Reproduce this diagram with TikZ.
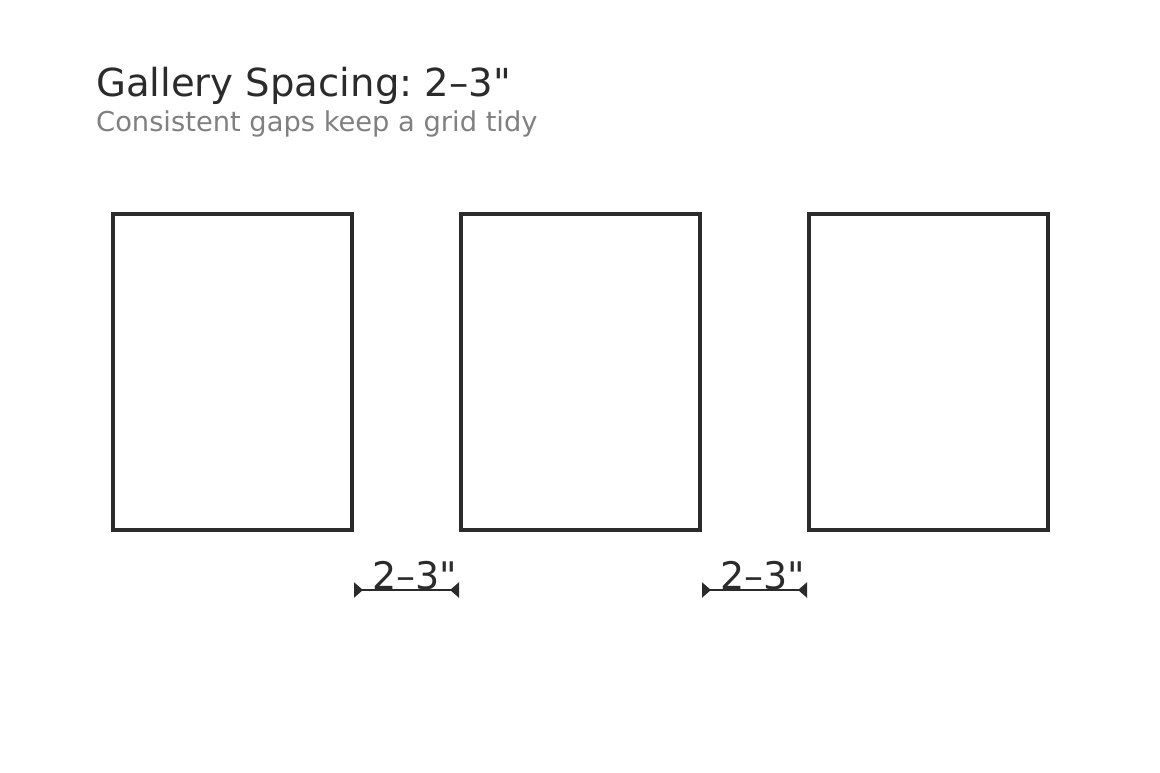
\documentclass[tikz,border=0pt]{standalone}
\usepackage{fontspec}
\setmainfont{DejaVu Sans}[Ligatures=TeXOff]
\usetikzlibrary{arrows.meta}
\frenchspacing

\definecolor{ink}{HTML}{2B2B2B}
\definecolor{subgray}{HTML}{808080}

\tikzset{
  frame/.style={draw=ink, line width=3.2pt, minimum width=239pt, minimum height=316pt, inner sep=0pt},
  gapline/.style={draw=ink, line width=2.5pt, {Triangle[reversed,length=9pt,width=15pt]}-{Triangle[reversed,length=9pt,width=15pt]}},
  gaplabel/.style={text=ink, font=\fontsize{38}{42}\selectfont, inner sep=0pt, anchor=base}
}

\begin{document}
\begin{tikzpicture}[x=1pt,y=-1pt]
          \useasboundingbox[fill=white] (0,0) rectangle (1160,773);
          \node[anchor=base west, inner sep=0pt, text=ink, font=\fontsize{38.6}{42}\selectfont] (title) at (96,97) {Gallery Spacing: 2–3"};
          \node[anchor=base west, inner sep=0pt, text=subgray, font=\fontsize{27.3}{30}\selectfont] (subtitle) at (96,132) {Consistent gaps keep a grid tidy};
          \node[frame] (frameA) at (232.5,372) {};
          \node[frame] (frameB) at (580.5,372) {};
          \node[frame] (frameC) at (928.5,372) {};
          \coordinate (gapAl) at (354,590); \coordinate (gapAr) at (459,590);
          \coordinate (gapBl) at (702,590); \coordinate (gapBr) at (807,590);
          \draw[gapline] (gapAl) -- (gapAr) node[gaplabel, midway, xshift=8pt, yshift=1pt] (labelA) {2–3"};
          \draw[gapline] (gapBl) -- (gapBr) node[gaplabel, midway, xshift=8pt, yshift=1pt] (labelB) {2–3"};
        \end{tikzpicture}
\end{document}
